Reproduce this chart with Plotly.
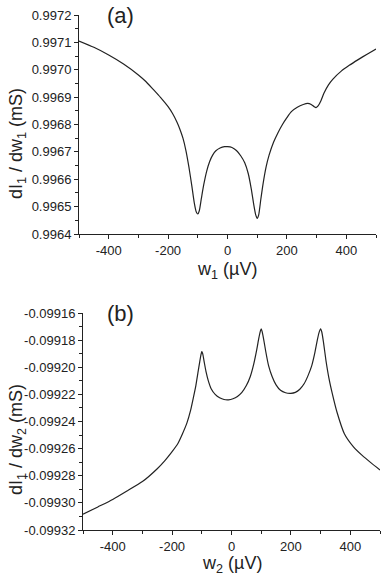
import plotly.graph_objects as go

# panel (a): dI1/dw1 vs w1
w1 = [-500, -450, -400, -350, -300, -275, -250, -225, -200, -185, -170, -160, -150,
      -140, -130, -120, -112, -105, -100, -95, -88, -80, -70, -60, -50, -40, -25, -10,
      0, 15, 30, 45, 58, 70, 80, 88, 95, 100, 105, 112, 120, 130, 140, 155, 170, 185,
      200, 215, 235, 255, 270, 282, 292, 298, 305, 315, 325, 340, 355, 383, 410, 440,
      470, 500]
g1 = [0.997105, 0.997082, 0.997054, 0.997021, 0.996981, 0.996957, 0.996928, 0.996898,
      0.996865, 0.996840, 0.996808, 0.996782, 0.996750, 0.996705, 0.996645, 0.996575,
      0.996515, 0.996480, 0.996473, 0.996485, 0.996530, 0.996580, 0.996630, 0.996665,
      0.996688, 0.996703, 0.996714, 0.996719, 0.996719, 0.996716, 0.996705, 0.996685,
      0.996660, 0.996620, 0.996565, 0.996510, 0.996470, 0.996457, 0.996470, 0.996525,
      0.996585, 0.996645, 0.996688, 0.996735, 0.996770, 0.996800, 0.996825, 0.996847,
      0.996863, 0.996873, 0.996877, 0.996873, 0.996865, 0.996862, 0.996868, 0.996888,
      0.996915, 0.996945, 0.996966, 0.996995, 0.997016, 0.997037, 0.997057, 0.997076]

# panel (b): dI1/dw2 vs w2
w2 = [-500, -450, -400, -350, -300, -250, -225, -200, -180, -165, -150, -138, -128,
      -120, -113, -107, -102, -100, -97, -92, -86, -78, -68, -55, -40, -25, -10, 5, 20,
      35, 50, 63, 75, 85, 92, 97, 100, 103, 108, 115, 125, 137, 150, 165, 182, 200, 215,
      230, 245, 258, 270, 280, 288, 294, 300, 304, 310, 318, 328, 340, 355, 380, 410,
      440, 470, 500]
g2 = [-0.0993084, -0.0993030, -0.0992975, -0.0992910, -0.0992843, -0.0992748,
      -0.0992690, -0.0992622, -0.0992560, -0.0992490, -0.0992410, -0.0992320,
      -0.0992220, -0.0992135, -0.0992040, -0.0991960, -0.0991900, -0.0991885,
      -0.0991900, -0.0991960, -0.0992030, -0.0992100, -0.0992160, -0.0992200,
      -0.0992225, -0.0992238, -0.0992240, -0.0992232, -0.0992215, -0.0992185,
      -0.0992135, -0.0992070, -0.0991975, -0.0991870, -0.0991785, -0.0991735,
      -0.0991716, -0.0991735, -0.0991790, -0.0991880, -0.0991990, -0.0992070,
      -0.0992130, -0.0992170, -0.0992188, -0.0992192, -0.0992185, -0.0992162,
      -0.0992120, -0.0992060, -0.0991990, -0.0991900, -0.0991810, -0.0991750,
      -0.0991716, -0.0991740, -0.0991820, -0.0991950, -0.0992080, -0.0992200,
      -0.0992330, -0.0992490, -0.0992585, -0.0992650, -0.0992705, -0.0992757]

x_ticks = [-400, -200, 0, 200, 400]
x_labels = ["-400", "-200", "0", "200", "400"]
y1_ticks = [0.9964, 0.9965, 0.9966, 0.9967, 0.9968, 0.9969, 0.9970, 0.9971, 0.9972]
y1_labels = ["0.9964", "0.9965", "0.9966", "0.9967", "0.9968", "0.9969", "0.9970",
             "0.9971", "0.9972"]
y2_ticks = [-0.09932, -0.09930, -0.09928, -0.09926, -0.09924, -0.09922, -0.09920,
            -0.09918, -0.09916]
y2_labels = ["-0.09932", "-0.09930", "-0.09928", "-0.09926", "-0.09924", "-0.09922",
             "-0.09920", "-0.09918", "-0.09916"]

W, H = 382, 581
font = "Liberation Sans, Arial, sans-serif"
ink = "#222"


def fx(px):
    return px / W


def fy(py):
    return 1 - py / H


fig = go.Figure()
fig.add_trace(go.Scatter(x=w1, y=g1, mode="lines",
                         line=dict(color=ink, width=1.2, shape="spline", smoothing=0.6),
                         xaxis="x", yaxis="y", showlegend=False))
fig.add_trace(go.Scatter(x=w2, y=g2, mode="lines",
                         line=dict(color=ink, width=1.2, shape="spline", smoothing=0.6),
                         xaxis="x2", yaxis="y2", showlegend=False))

axis_common = dict(showline=True, linecolor=ink, linewidth=1, ticks="outside",
                   ticklen=4, tickcolor=ink, showgrid=False, zeroline=False,
                   automargin=False, ticklabeloverflow="allow",
                   tickfont=dict(family=font, size=13, color=ink))

fig.update_layout(
    width=W, height=H,
    margin=dict(l=0, r=0, t=0, b=0),
    paper_bgcolor="white", plot_bgcolor="white",
    font=dict(family=font, color=ink),
    xaxis=dict(domain=[fx(79), fx(376)], range=[-500, 500], anchor="y",
               tickvals=x_ticks, ticktext=x_labels,
               minor=dict(dtick=100, tick0=0, ticks="outside", ticklen=3, tickcolor=ink),
               **axis_common),
    yaxis=dict(domain=[fy(234), fy(15)], range=[0.9964, 0.9972], anchor="x",
               tickvals=y1_ticks, ticktext=y1_labels,
               minor=dict(dtick=0.00005, tick0=0.9964, ticks="outside", ticklen=3,
                          tickcolor=ink),
               **axis_common),
    xaxis2=dict(domain=[fx(83), fx(380)], range=[-500, 500], anchor="y2",
                tickvals=x_ticks, ticktext=x_labels,
                minor=dict(dtick=100, tick0=0, ticks="outside", ticklen=3, tickcolor=ink),
                **axis_common),
    yaxis2=dict(domain=[fy(530), fy(313)], range=[-0.09932, -0.09916], anchor="x2",
                tickvals=y2_ticks, ticktext=y2_labels,
                minor=dict(dtick=0.00001, tick0=-0.09932, ticks="outside", ticklen=3,
                           tickcolor=ink),
                **axis_common),
)

titles = [
    ("(a)", 120, 15, 0, 22),
    ("(b)", 120, 313, 0, 22),
    ("w<sub>1</sub> (µV)", 227, 270, 0, 18),
    ("w<sub>2</sub> (µV)", 232, 564, 0, 18),
    ("dI<sub>1</sub> / dw<sub>1</sub> (mS)", 17, 144, -90, 18),
    ("dI<sub>1</sub> / dw<sub>2</sub> (mS)", 17, 440, -90, 18),
]
for text, px, py, angle, size in titles:
    fig.add_annotation(text=text, x=fx(px), y=fy(py), xref="paper", yref="paper",
                       showarrow=False, textangle=angle, xanchor="center",
                       yanchor="middle", font=dict(family=font, size=size, color=ink))

# drop the default 8px body margin so the figure fills the window exactly
fig.write_html("out.html", config={"displayModeBar": False},
               post_script="document.body.style.margin = '0';")
